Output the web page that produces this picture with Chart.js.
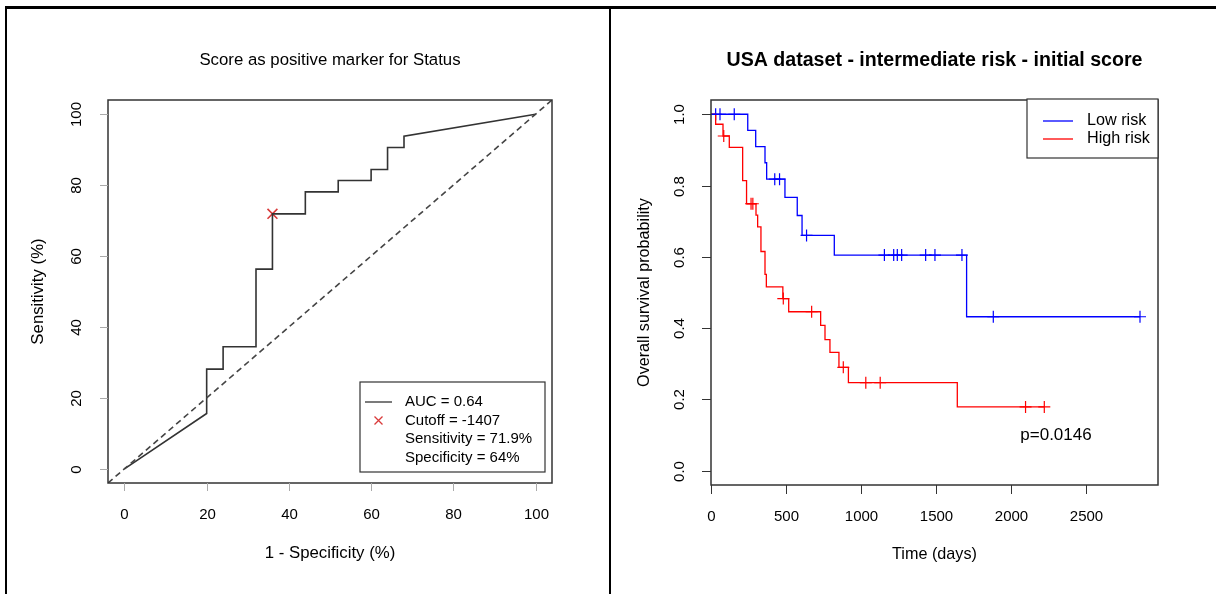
<!DOCTYPE html>
<html>
<head>
<meta charset="utf-8">
<script src="https://cdn.jsdelivr.net/npm/chart.js@4.4.1/dist/chart.umd.min.js"></script>
<style>
  body { margin: 0; background: #fff; width: 1216px; height: 594px; overflow: hidden; position: relative; }
  canvas { position: absolute; top: 0; }
  #rocChart { left: 0; }
  #kmChart { left: 610px; }
  .line { position: absolute; background: #000; }
</style>
</head>
<body>
<canvas id="rocChart" width="610" height="594"></canvas>
<canvas id="kmChart" width="606" height="594"></canvas>
<div class="line" style="left:5px; top:6px; width:1211px; height:3px;"></div>
<div class="line" style="left:5px; top:6px; width:2px; height:588px;"></div>
<div class="line" style="left:609px; top:6px; width:2px; height:588px;"></div>

<script>
// ROC curve (1 - specificity, sensitivity in %)
const rocFpr  = [0, 20, 20, 24, 24, 32, 32, 36, 36, 44, 44, 52, 52, 60, 60, 64, 64, 68, 68, 100];
const rocSens = [0, 15.6, 28.1, 28.1, 34.4, 34.4, 56.3, 56.3, 71.9, 71.9, 78.1, 78.1, 81.3, 81.3, 84.4, 84.4, 90.6, 90.6, 93.8, 100];
const cutoffFpr = [36];
const cutoffSens = [71.9];
const rocTicks = [0, 20, 40, 60, 80, 100];
const rocLegend = ["AUC = 0.64", "Cutoff = -1407", "Sensitivity = 71.9%", "Specificity = 64%"];

// Kaplan-Meier curves
const lowTime  = [0, 245, 298, 360, 371, 493, 575, 607, 822, 1704, 2860];
const lowSurv  = [1, 0.955, 0.909, 0.864, 0.818, 0.767, 0.716, 0.660, 0.605, 0.432, 0.432];
const lowCensor = [31, 60, 155, 425, 457, 637, 1156, 1218, 1242, 1271, 1431, 1493, 1673, 1882, 2860];
const highTime = [0, 31, 80, 122, 211, 237, 300, 311, 333, 360, 369, 479, 518, 731, 760, 793, 853, 916, 1642, 2222];
const highSurv = [1, 0.972, 0.939, 0.907, 0.814, 0.749, 0.717, 0.684, 0.615, 0.551, 0.516, 0.483, 0.446, 0.408, 0.368, 0.332, 0.290, 0.247, 0.179, 0.179];
const highCensor = [85, 267, 279, 482, 671, 882, 1032, 1128, 2097, 2222];
const timeTicks = [0, 500, 1000, 1500, 2000, 2500];
const survTicks = [0, 0.2, 0.4, 0.6, 0.8, 1.0];
const survTickLabels = ["0.0", "0.2", "0.4", "0.6", "0.8", "1.0"];
const kmGroups = ["Low risk", "High risk"];
const pValueText = "p=0.0146";

const FONT = '"Liberation Sans", Arial, Helvetica, sans-serif';

function pts(xs, ys) {
  return xs.map((x, i) => ({ x: x, y: ys[i] }));
}

// survival value of a step curve at time t
function survAt(times, surv, t) {
  let s = surv[0];
  for (let i = 0; i < times.length; i++) {
    if (times[i] <= t) s = surv[i];
  }
  return s;
}

// R風の枠・軸・タイトル・凡例
const rPlot = {
  id: "rPlot",
  afterDraw(chart, args, o) {
    const ctx = chart.ctx;
    const a = chart.chartArea;
    const xs = chart.scales.x;
    const ys = chart.scales.y;
    ctx.save();

    ctx.strokeStyle = o.boxColor;
    ctx.lineWidth = o.boxWidth;
    ctx.strokeRect(a.left, a.top, a.right - a.left, a.bottom - a.top);

    ctx.font = "15px " + FONT;
    ctx.fillStyle = "#000";
    ctx.textAlign = "center";
    ctx.textBaseline = "middle";
    ctx.lineWidth = 1;
    ctx.strokeStyle = o.tickColor;

    o.xTicks.forEach((v, i) => {
      const px = Math.round(xs.getPixelForValue(v)) + 0.5;
      ctx.beginPath();
      ctx.moveTo(px, a.bottom);
      ctx.lineTo(px, a.bottom + o.tickLen);
      ctx.stroke();
      ctx.fillText(o.xLabels[i], px, a.bottom + 32);
    });

    o.yTicks.forEach((v, i) => {
      const py = Math.round(ys.getPixelForValue(v)) + 0.5;
      ctx.beginPath();
      ctx.moveTo(a.left, py);
      ctx.lineTo(a.left - o.tickLen, py);
      ctx.stroke();
      ctx.save();
      ctx.translate(a.left - 31, py);
      ctx.rotate(-Math.PI / 2);
      ctx.fillText(o.yLabels[i], 0, 0);
      ctx.restore();
    });

    // axis titles
    ctx.font = o.labelFont + FONT;
    ctx.fillText(o.xTitle, (a.left + a.right) / 2, a.bottom + 70);
    ctx.save();
    ctx.translate(a.left - o.yTitleOffset, (a.top + a.bottom) / 2);
    ctx.rotate(-Math.PI / 2);
    ctx.fillText(o.yTitle, 0, 0);
    ctx.restore();

    // main title
    ctx.font = o.titleFont + FONT;
    ctx.fillText(o.title, (a.left + a.right) / 2, 60.5);

    // legend
    const lg = o.legend;
    ctx.font = lg.font + FONT;
    ctx.fillStyle = "#fff";
    ctx.fillRect(lg.x, lg.y, lg.w, lg.h);
    ctx.strokeStyle = o.boxColor;
    ctx.lineWidth = 1.2;
    ctx.strokeRect(lg.x, lg.y, lg.w, lg.h);
    ctx.textAlign = "left";
    lg.rows.forEach((r, i) => {
      const y = lg.y + lg.first + i * lg.step;
      if (r.kind === "line") {
        ctx.strokeStyle = r.color;
        ctx.lineWidth = 1.3;
        ctx.beginPath();
        ctx.moveTo(lg.x + lg.sample[0], y);
        ctx.lineTo(lg.x + lg.sample[1], y);
        ctx.stroke();
      } else if (r.kind === "cross") {
        const cx = lg.x + (lg.sample[0] + lg.sample[1]) / 2;
        ctx.strokeStyle = r.color;
        ctx.lineWidth = 1.3;
        ctx.beginPath();
        ctx.moveTo(cx - 4, y - 4); ctx.lineTo(cx + 4, y + 4);
        ctx.moveTo(cx + 4, y - 4); ctx.lineTo(cx - 4, y + 4);
        ctx.stroke();
      }
      ctx.fillStyle = "#000";
      ctx.fillText(r.text, lg.x + lg.textX, y);
    });

    if (o.note) {
      ctx.textAlign = "center";
      ctx.font = o.note.font + FONT;
      ctx.fillText(o.note.text, xs.getPixelForValue(o.note.x), ys.getPixelForValue(o.note.y));
    }
    ctx.restore();
  },
};

Chart.register(rPlot);

// 左: ROC
new Chart(document.getElementById("rocChart"), {
  type: "scatter",
  data: {
    datasets: [
      {
        data: [{ x: -4, y: -4 }, { x: 104, y: 104 }],
        showLine: true,
        borderColor: "#444",
        borderWidth: 1.6,
        borderDash: [6, 4],
        pointRadius: 0,
      },
      {
        data: pts(rocFpr, rocSens),
        showLine: true,
        borderColor: "#333",
        borderWidth: 1.6,
        pointRadius: 0,
      },
      {
        data: pts(cutoffFpr, cutoffSens),
        pointStyle: "crossRot",
        pointRadius: 7,
        borderColor: "#d93a3a",
        borderWidth: 1.6,
      },
    ],
  },
  options: {
    responsive: false,
    animation: false,
    layout: { padding: { left: 108, right: 58, top: 100, bottom: 111 } },
    scales: {
      x: { type: "linear", min: -4, max: 104, display: false },
      y: { type: "linear", min: -4, max: 104, display: false },
    },
    plugins: {
      legend: { display: false },
      tooltip: { enabled: false },
      rPlot: {
        boxColor: "#333",
        boxWidth: 1.5,
        tickColor: "#aaa",
        tickLen: 8,
        xTicks: rocTicks,
        xLabels: rocTicks.map(String),
        yTicks: rocTicks,
        yLabels: rocTicks.map(String),
        xTitle: "1 - Specificity (%)",
        yTitle: "Sensitivity (%)",
        yTitleOffset: 70,
        labelFont: "16.8px ",
        title: "Score as positive marker for Status",
        titleFont: "16.8px ",
        legend: {
          x: 360, y: 382, w: 185, h: 90, first: 20, step: 18.5,
          sample: [5, 32], textX: 45, font: "15px ",
          rows: [
            { kind: "line", color: "#333", text: rocLegend[0] },
            { kind: "cross", color: "#d93a3a", text: rocLegend[1] },
            { kind: "none", text: rocLegend[2] },
            { kind: "none", text: rocLegend[3] },
          ],
        },
      },
    },
  },
});

// 右: Kaplan-Meier
new Chart(document.getElementById("kmChart"), {
  type: "scatter",
  data: {
    datasets: [
      {
        data: pts(lowTime, lowSurv),
        showLine: true,
        stepped: "before",
        borderColor: "#0000ff",
        borderWidth: 1.3,
        pointRadius: 0,
      },
      {
        data: pts(highTime, highSurv),
        showLine: true,
        stepped: "before",
        borderColor: "#ff0000",
        borderWidth: 1.3,
        pointRadius: 0,
      },
      {
        data: lowCensor.map((t) => ({ x: t, y: survAt(lowTime, lowSurv, t) })),
        pointStyle: "cross",
        pointRadius: 6,
        borderColor: "#0000ff",
        borderWidth: 1.2,
      },
      {
        data: highCensor.map((t) => ({ x: t, y: survAt(highTime, highSurv, t) })),
        pointStyle: "cross",
        pointRadius: 6,
        borderColor: "#ff0000",
        borderWidth: 1.2,
      },
    ],
  },
  options: {
    responsive: false,
    animation: false,
    layout: { padding: { left: 101, right: 58, top: 100, bottom: 109 } },
    scales: {
      x: { type: "linear", min: 0, max: 2980, display: false },
      y: { type: "linear", min: -0.04, max: 1.04, display: false },
    },
    plugins: {
      legend: { display: false },
      tooltip: { enabled: false },
      rPlot: {
        boxColor: "#333",
        boxWidth: 1.5,
        tickColor: "#333",
        tickLen: 9,
        xTicks: timeTicks,
        xLabels: timeTicks.map(String),
        yTicks: survTicks,
        yLabels: survTickLabels,
        xTitle: "Time (days)",
        yTitle: "Overall survival probability",
        yTitleOffset: 66,
        labelFont: "16.2px ",
        title: "USA dataset - intermediate risk - initial score",
        titleFont: "bold 19.6px ",
        legend: {
          x: 417, y: 99, w: 131, h: 59, first: 22, step: 18,
          sample: [16, 46], textX: 60, font: "16.2px ",
          rows: [
            { kind: "line", color: "#0000ff", text: kmGroups[0] },
            { kind: "line", color: "#ff0000", text: kmGroups[1] },
          ],
        },
        note: { text: pValueText, x: 2300, y: 0.1, font: "17px " },
      },
    },
  },
});
</script>
</body>
</html>
